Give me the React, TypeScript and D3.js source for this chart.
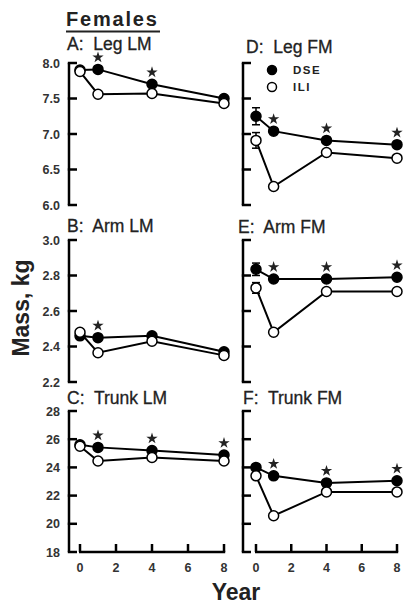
import React from "react";
import * as d3 from "d3";

const years = [0, 1, 4, 8];
const xTicks = [0, 2, 4, 6, 8];

const legLM_DSE = [7.9, 7.91, 7.7, 7.5];
const legLM_ILI = [7.88, 7.56, 7.57, 7.43];
const armLM_DSE = [2.46, 2.45, 2.46, 2.37];
const armLM_ILI = [2.48, 2.365, 2.43, 2.35];
const trunkLM_DSE = [25.6, 25.42, 25.2, 24.88];
const trunkLM_ILI = [25.5, 24.45, 24.7, 24.45];
const legFM_DSE = [7.25, 7.04, 6.91, 6.85];
const legFM_ILI = [6.91, 6.26, 6.74, 6.66];
const armFM_DSE = [2.835, 2.78, 2.78, 2.79];
const armFM_ILI = [2.73, 2.48, 2.71, 2.71];
const trunkFM_DSE = [24.0, 23.4, 22.9, 23.05];
const trunkFM_ILI = [23.4, 20.57, 22.26, 22.26];

// error at year 0: [DSE, ILI]
const legFM_err = [0.12, 0.11];
const armFM_err = [0.035, 0.03];

const legStars = [1, 4];
const armLMStars = [1];
const fmStars = [1, 4, 8];
const trunkLMStars = [1, 4, 8];

const rowTicks = [
  [6.0, 6.5, 7.0, 7.5, 8.0],
  [2.2, 2.4, 2.6, 2.8, 3.0],
  [18, 20, 22, 24, 26, 28],
];
const rowDomains: [number, number][] = [
  [6, 8],
  [2.2, 3.0],
  [18, 28],
];
const rowFormats = [".1f", ".1f", "d"];

const rowsPx = [
  [63, 205],
  [240, 382],
  [411, 552],
];
const colAxisX = [69, 243];
const colRange: [number, number][] = [
  [80, 224],
  [256, 397],
];

const panels = [
  { title: "A:  Leg LM", row: 0, col: 0, dse: legLM_DSE, ili: legLM_ILI, stars: legStars, err: null as number[] | null },
  { title: "B:  Arm LM", row: 1, col: 0, dse: armLM_DSE, ili: armLM_ILI, stars: armLMStars, err: null },
  { title: "C:  Trunk LM", row: 2, col: 0, dse: trunkLM_DSE, ili: trunkLM_ILI, stars: trunkLMStars, err: null },
  { title: "D:  Leg FM", row: 0, col: 1, dse: legFM_DSE, ili: legFM_ILI, stars: fmStars, err: legFM_err },
  { title: "E:  Arm FM", row: 1, col: 1, dse: armFM_DSE, ili: armFM_ILI, stars: fmStars, err: armFM_err },
  { title: "F:  Trunk FM", row: 2, col: 1, dse: trunkFM_DSE, ili: trunkFM_ILI, stars: fmStars, err: null },
];

const titlePos = [
  [[67, 50], [246, 53]],
  [[67, 232], [238, 233]],
  [[67, 404], [243, 404]],
];

const FONT = "Arial, 'Liberation Sans', sans-serif";
const starPath = d3.symbol().type(d3.symbolStar).size(40)() as string;

function Panel({ p }: { p: (typeof panels)[number] }) {
  const [top, bottom] = rowsPx[p.row];
  const y = d3.scaleLinear().domain(rowDomains[p.row]).range([bottom, top]);
  const x = d3.scaleLinear().domain([0, 8]).range(colRange[p.col]);
  const ax = colAxisX[p.col];
  const fmt = d3.format(rowFormats[p.row]);
  const line = d3
    .line<number>()
    .x((_, i) => x(years[i]))
    .y((d) => y(d));
  const [tx, ty] = titlePos[p.row][p.col];
  return (
    <g>
      <text
        x={tx}
        y={ty}
        fontSize={17.5}
        fontFamily={FONT}
        fill="#222"
        stroke="#222"
        strokeWidth={0.3}
        style={{ whiteSpace: "pre" }}
      >
        {p.title}
      </text>
      <line x1={ax} x2={ax} y1={top} y2={bottom} stroke="#000" strokeWidth={2.5} />
      {rowTicks[p.row].map((t) => (
        <g key={t}>
          <line x1={ax - 1.2} x2={ax + 8} y1={y(t)} y2={y(t)} stroke="#000" strokeWidth={2.5} />
          {p.col === 0 && (
            <text
              x={ax - 9}
              y={y(t)}
              dy="0.36em"
              textAnchor="end"
              fontSize={12.5}
              fontWeight="bold"
              fontFamily={FONT}
              fill="#333"
            >
              {fmt(t)}
            </text>
          )}
        </g>
      ))}
      {p.row === 2 && (
        <g>
          <line x1={x(0) - 1} x2={x(8) + 1.2} y1={bottom} y2={bottom} stroke="#000" strokeWidth={2.5} />
          {xTicks.map((t) => (
            <g key={t}>
              <line x1={x(t)} x2={x(t)} y1={bottom} y2={bottom - 8} stroke="#000" strokeWidth={2.5} />
              <text
                x={x(t)}
                y={bottom + 15}
                dy="0.36em"
                textAnchor="middle"
                fontSize={12.5}
                fontWeight="bold"
                fontFamily={FONT}
                fill="#333"
              >
                {t}
              </text>
            </g>
          ))}
        </g>
      )}
      <path d={line(p.dse) as string} fill="none" stroke="#000" strokeWidth={2} />
      <path d={line(p.ili) as string} fill="none" stroke="#000" strokeWidth={2} />
      {p.err && (
        <g stroke="#000" strokeWidth={1.5}>
          {[p.dse, p.ili].map((s, k) => (
            <g key={k}>
              <line x1={x(0)} x2={x(0)} y1={y(s[0] + p.err![k])} y2={y(s[0] - p.err![k])} />
              <line x1={x(0) - 4} x2={x(0) + 4} y1={y(s[0] + p.err![k])} y2={y(s[0] + p.err![k])} />
              <line x1={x(0) - 4} x2={x(0) + 4} y1={y(s[0] - p.err![k])} y2={y(s[0] - p.err![k])} />
            </g>
          ))}
        </g>
      )}
      {p.dse.map((v, i) => (
        <circle key={"d" + i} cx={x(years[i])} cy={y(v)} r={5} fill="#000" stroke="#000" strokeWidth={1.5} />
      ))}
      {p.ili.map((v, i) => (
        <circle key={"i" + i} cx={x(years[i])} cy={y(v)} r={5} fill="#fff" stroke="#000" strokeWidth={1.5} />
      ))}
      {p.stars.map((yr) => {
        const idx = years.indexOf(yr);
        return (
          <path
            key={"s" + yr}
            d={starPath}
            transform={`translate(${x(yr)},${y(p.dse[idx]) - 12})`}
            fill="#222"
          />
        );
      })}
    </g>
  );
}

export default function App() {
  return (
    <svg width={417} height={610} style={{ position: "absolute", left: 0, top: 0 }}>
      <rect width={417} height={610} fill="#fff" />
      <text x={66} y={26} fontSize={20} fontWeight="bold" fontFamily={FONT} letterSpacing={1.8} fill="#222">
        Females
      </text>
      <line x1={66} x2={160} y1={31.5} y2={31.5} stroke="#222" strokeWidth={2} />
      {panels.map((p) => (
        <Panel key={p.title} p={p} />
      ))}
      <g fontFamily={FONT} fontSize={11.5} fontWeight="bold" fill="#222" letterSpacing={1.5}>
        <circle cx={272} cy={70} r={4.5} fill="#000" stroke="#000" strokeWidth={1.5} />
        <text x={293} y={74}>DSE</text>
        <circle cx={272} cy={87} r={4.5} fill="#fff" stroke="#000" strokeWidth={1.5} />
        <text x={293} y={91}>ILI</text>
      </g>
      <text
        transform="translate(29,308) rotate(-90)"
        textAnchor="middle"
        fontSize={23}
        fontWeight="bold"
        fontFamily={FONT}
        fill="#222"
      >
        Mass, kg
      </text>
      <text x={236} y={600} textAnchor="middle" fontSize={23} fontWeight="bold" fontFamily={FONT} fill="#222">
        Year
      </text>
    </svg>
  );
}
